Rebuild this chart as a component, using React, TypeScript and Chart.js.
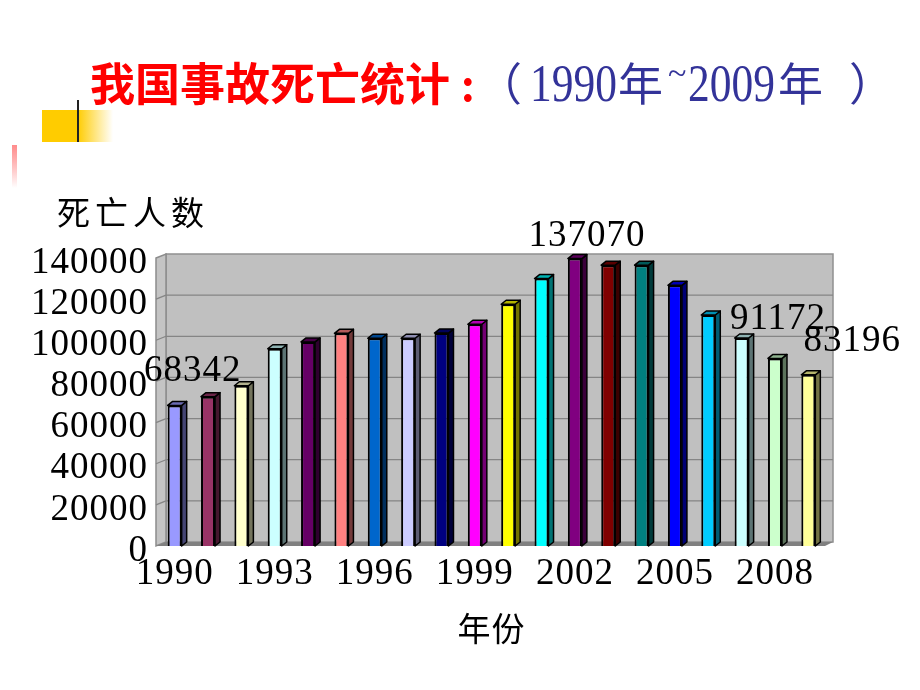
import React, { useEffect, useRef } from 'react';
import { Chart, registerables } from 'chart.js';

Chart.register(...registerables);

// ---------- data ----------
const years = ['1990', '1991', '1992', '1993', '1994', '1995', '1996', '1997', '1998', '1999',
  '2000', '2001', '2002', '2003', '2004', '2005', '2006', '2007', '2008', '2009'];
const deaths = [68342, 72600, 77900, 95900, 99200, 103400, 101000, 101000, 103500, 107800,
  117500, 130000, 139700, 136500, 136500, 126700, 112300, 101100, 91172, 83196];
const barColors = ['#9999FF', '#993366', '#FFFFCC', '#CCFFFF', '#660066', '#FF8080', '#0066CC', '#CCCCFF', '#000080', '#FF00FF',
  '#FFFF00', '#00FFFF', '#800080', '#800000', '#008080', '#0000FF', '#00CCFF', '#CCFFFF', '#CCFFCC', '#FFFF99'];
const yMin = 0;
const yMax = 140000;
const yStep = 20000;
const annotatedYears = ['1990', '2002', '2008', '2009'];
const annotatedTexts = ['68342', '137070', '91172', '83196'];
const titleRed = '我国事故死亡统计';
const titleColon = ':';
const titleOpen = '（';
const titleFrom = '1990';
const titleYear = '年';
const titleTilde = '~';
const titleTo = '2009';
const titleClose = '）';
const yAxisTitle = '死亡人数';
const xAxisTitle = '年份';

// ---------- styling / placement (not data) ----------
const SERIF = '"Liberation Serif", "Times New Roman", serif';
const CJK = '"Noto Sans CJK SC", sans-serif';
const BLUE = '#333399';
const DEPTH_X = 8;
const DEPTH_Y = -4;
const BAR_DX = 5;
const BAR_DY = -4;
const annotationOffsets: Record<string, [number, number]> = {
  '1990': [18, -34],
  '2002': [12, -22],
  '2008': [3, -39],
  '2009': [44, -34],
};

function shade(hex: string, f: number): string {
  const n = parseInt(hex.slice(1), 16);
  const r = Math.round(((n >> 16) & 255) * f);
  const g = Math.round(((n >> 8) & 255) * f);
  const b = Math.round((n & 255) * f);
  return `rgb(${r},${g},${b})`;
}

const decorPlugin = {
  id: 'decor',
  beforeDraw(chart: any) {
    const ctx: CanvasRenderingContext2D = chart.ctx;
    const { left, right, top, bottom } = chart.chartArea;
    const yScale = chart.scales.y;
    ctx.save();
    ctx.fillStyle = '#ffffff';
    ctx.fillRect(0, 0, chart.width, chart.height);

    // yellow square with fade
    const g = ctx.createLinearGradient(42, 0, 113, 0);
    g.addColorStop(0, '#FFCC00');
    g.addColorStop(0.5, '#FFCC00');
    g.addColorStop(1, 'rgba(255,255,255,1)');
    ctx.fillStyle = g;
    ctx.fillRect(42, 110, 71, 32);
    ctx.fillStyle = '#222';
    ctx.fillRect(77, 100, 2, 42);

    // pink fading strip
    const pg = ctx.createLinearGradient(0, 145, 0, 188);
    pg.addColorStop(0, 'rgba(255,120,120,0.85)');
    pg.addColorStop(1, 'rgba(255,255,255,1)');
    ctx.fillStyle = pg;
    ctx.fillRect(12, 145, 5, 43);

    // title
    const base = 101;
    ctx.textBaseline = 'alphabetic';
    ctx.textAlign = 'left';
    ctx.fillStyle = '#FF0000';
    ctx.font = `bold 45px ${CJK}`;
    ctx.fillText(titleRed, 90, base);
    ctx.font = `bold 42px ${CJK}`;
    ctx.fillText(titleColon, 461, base);
    ctx.fillStyle = BLUE;
    ctx.font = `45px ${CJK}`;
    ctx.fillText(titleOpen, 477, base);
    const drawDigits = (s: string, x: number) => {
      ctx.save();
      ctx.font = `53px ${SERIF}`;
      ctx.translate(x, base);
      ctx.scale(0.82, 1);
      ctx.fillText(s, 0, 0);
      ctx.restore();
    };
    drawDigits(titleFrom, 530);
    ctx.font = `45px ${CJK}`;
    ctx.fillText(titleYear, 618, base);
    ctx.font = `34px ${SERIF}`;
    ctx.fillText(titleTilde, 668, 84);
    drawDigits(titleTo, 688);
    ctx.font = `45px ${CJK}`;
    ctx.fillText(titleYear, 778, base);
    ctx.fillText(titleClose, 849, base);

    // y axis title
    ctx.fillStyle = '#000';
    ctx.font = `33px ${CJK}`;
    (ctx as any).letterSpacing = '5px';
    ctx.textBaseline = 'middle';
    ctx.fillText(yAxisTitle, 57, 212);
    (ctx as any).letterSpacing = '0px';

    // back wall
    const bl = left + DEPTH_X, br = right + DEPTH_X, bt = top + DEPTH_Y, bb = bottom + DEPTH_Y;
    ctx.fillStyle = '#C0C0C0';
    ctx.fillRect(bl, bt, br - bl, bb - bt);
    ctx.strokeStyle = '#909090';
    ctx.lineWidth = 1.5;
    ctx.strokeRect(bl, bt, br - bl, bb - bt);

    // left side wall
    const lf = left - 2;
    ctx.beginPath();
    ctx.moveTo(lf, top);
    ctx.lineTo(bl, bt);
    ctx.lineTo(bl, bb);
    ctx.lineTo(lf, bottom);
    ctx.closePath();
    ctx.fillStyle = '#C4C4C4';
    ctx.fill();
    ctx.strokeStyle = '#8c8c8c';
    ctx.stroke();

    // gridlines
    ctx.strokeStyle = '#858585';
    ctx.lineWidth = 1.2;
    for (let v = yMin + yStep; v < yMax; v += yStep) {
      const py = yScale.getPixelForValue(v);
      ctx.beginPath();
      ctx.moveTo(bl, py + DEPTH_Y);
      ctx.lineTo(br, py + DEPTH_Y);
      ctx.stroke();
      ctx.beginPath();
      ctx.moveTo(lf, py);
      ctx.lineTo(bl, py + DEPTH_Y);
      ctx.stroke();
    }

    // floor
    ctx.beginPath();
    ctx.moveTo(lf, bottom);
    ctx.lineTo(right, bottom);
    ctx.lineTo(br, bb);
    ctx.lineTo(bl, bb);
    ctx.closePath();
    ctx.fillStyle = '#808080';
    ctx.fill();
    ctx.restore();
    // slightly wider digit spacing for the axis tick labels drawn next by Chart.js
    (ctx as any).letterSpacing = '1px';
  },
  afterDatasetsDraw(chart: any) {
    const ctx: CanvasRenderingContext2D = chart.ctx;
    const meta = chart.getDatasetMeta(0);
    ctx.save();
    ctx.lineJoin = 'round';
    meta.data.forEach((bar: any, i: number) => {
      const { x, y, width, base } = bar.getProps(['x', 'y', 'width', 'base'], true);
      const l = x - width / 2;
      const r = x + width / 2;
      const c = barColors[i];
      // side face
      ctx.beginPath();
      ctx.moveTo(r, y);
      ctx.lineTo(r + BAR_DX, y + BAR_DY);
      ctx.lineTo(r + BAR_DX, base + BAR_DY);
      ctx.lineTo(r, base);
      ctx.closePath();
      ctx.fillStyle = shade(c, 0.45);
      ctx.fill();
      ctx.strokeStyle = '#000';
      ctx.lineWidth = 1.5;
      ctx.stroke();
      // top face
      ctx.beginPath();
      ctx.moveTo(l, y);
      ctx.lineTo(l + BAR_DX, y + BAR_DY);
      ctx.lineTo(r + BAR_DX, y + BAR_DY);
      ctx.lineTo(r, y);
      ctx.closePath();
      ctx.fillStyle = shade(c, 0.7);
      ctx.fill();
      ctx.stroke();
    });

    // value annotations
    ctx.fillStyle = '#000';
    ctx.font = `37px ${SERIF}`;
    (ctx as any).letterSpacing = '1px';
    ctx.textAlign = 'center';
    ctx.textBaseline = 'middle';
    annotatedYears.forEach((yr, k) => {
      const idx = years.indexOf(yr);
      const bar = meta.data[idx];
      const { x, y } = bar.getProps(['x', 'y'], true);
      const off = annotationOffsets[yr] || [0, -20];
      ctx.fillText(annotatedTexts[k], x + off[0], y + off[1]);
    });
    ctx.restore();
  },
};

export default function App() {
  const canvasRef = useRef<HTMLCanvasElement | null>(null);

  useEffect(() => {
    if (!canvasRef.current) return;
    const chart = new Chart(canvasRef.current, {
      type: 'bar',
      data: {
        labels: years,
        datasets: [
          {
            data: deaths,
            backgroundColor: barColors,
            borderColor: '#000000',
            borderWidth: 2,
            barPercentage: 0.42,
            categoryPercentage: 1,
          },
        ],
      },
      options: {
        responsive: false,
        animation: false,
        layout: { padding: { left: 0, right: 95, top: 258, bottom: 0 } },
        plugins: {
          legend: { display: false },
          tooltip: { enabled: false },
          title: { display: false },
        },
        scales: {
          x: {
            grid: { display: false, drawTicks: false },
            border: { display: false },
            ticks: {
              autoSkip: false,
              maxRotation: 0,
              minRotation: 0,
              padding: 6,
              color: '#000',
              font: { family: SERIF, size: 37 },
              callback: (_v: any, i: number) => (i % 3 === 0 ? years[i] : ''),
            },
            title: {
              display: true,
              text: xAxisTitle,
              color: '#000',
              font: { family: CJK, size: 33 },
              padding: { top: 0, bottom: 42 },
            },
            afterFit: (s: any) => {
              s.height = 144;
            },
          },
          y: {
            min: yMin,
            max: yMax,
            grid: { display: false, drawTicks: false },
            border: { display: false },
            ticks: {
              stepSize: yStep,
              autoSkip: false,
              padding: 10,
              labelOffset: 5,
              color: '#000',
              font: { family: SERIF, size: 37 },
              callback: (v: any) => String(v),
            },
            afterFit: (s: any) => {
              s.width = 158;
            },
          },
        },
      },
      plugins: [decorPlugin],
    });
    return () => chart.destroy();
  }, []);

  return (
    <div style={{ position: 'absolute', left: 0, top: 0, width: 920, height: 690, background: '#fff' }}>
      <canvas ref={canvasRef} width={920} height={690} style={{ width: 920, height: 690, display: 'block' }} />
    </div>
  );
}
